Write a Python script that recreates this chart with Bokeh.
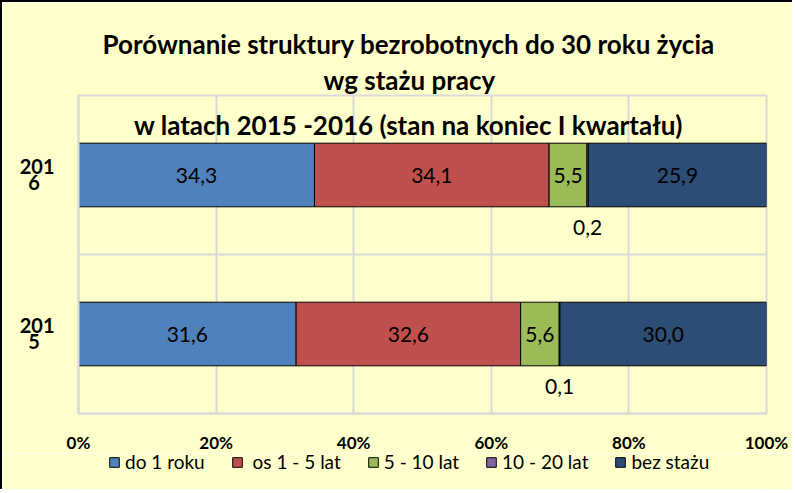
from bokeh.plotting import figure
from bokeh.layouts import column
from bokeh.models import (Range1d, Label, Legend, LegendItem, ColumnDataSource,
                          FixedTicker, Span, Title)
from bokeh.core.properties import value
from bokeh.embed import file_html
from bokeh.resources import INLINE

# ---- data ----
years = ["2015", "2016"]
year_label_top = ["201", "201"]
year_label_bottom = ["5", "6"]
series_names = ["do 1 roku", " os 1 - 5 lat", "5 - 10 lat", "10 - 20 lat", "bez stażu"]
do_1_roku = [31.6, 34.3]
os_1_5_lat = [32.6, 34.1]
lat_5_10 = [5.6, 5.5]
lat_10_20 = [0.1, 0.2]
bez_stazu = [30.0, 25.9]
x_ticks = [0, 20, 40, 60, 80, 100]
x_tick_labels = ["0%", "20%", "40%", "60%", "80%", "100%"]
title_lines = [
    "Porównanie struktury bezrobotnych do 30 roku życia",
    "wg stażu pracy",
    "w latach 2015 -2016 (stan na koniec I kwartału)",
]

# ---- style ----
colors = ["#4F81BD", "#C0504D", "#9BBB59", "#8064A2", "#2C4D75"]
bg = "#FFFFCC"
grid = "#D9D9D9"
FONT = "Lato"
NB = "\u00a0"

series_vals = [do_1_roku, os_1_5_lat, lat_5_10, lat_10_20, bez_stazu]
keys = ["s0", "s1", "s2", "s3", "s4"]
n = len(years)
totals = [sum(v[i] for v in series_vals) for i in range(n)]
ypos = [i + 0.5 for i in range(n)]   # category slots

data = {"y": ypos}
for k, vals in zip(keys, series_vals):
    data[k] = [v / t * 100 for v, t in zip(vals, totals)]
source = ColumnDataSource(data)

W = 792
BL, BR = 76, 28
p = figure(
    width=W, height=453,
    y_range=Range1d(0, n), x_range=Range1d(0, 100),
    output_backend="svg", toolbar_location=None,
    min_border_left=BL, min_border_right=BR, min_border_top=93, min_border_bottom=40,
    background_fill_color=bg, border_fill_color=bg,
)
p.styles = {"border-left": "2px solid black", "border-top": "2px solid black"}
p.outline_line_color = grid
p.outline_line_width = 2

renderers = p.hbar_stack(keys, y="y", height=0.4, color=colors, source=source,
                         line_color="black", line_width=1)

# category separator lines
for b in range(1, n):
    p.add_layout(Span(location=b, dimension="width", line_color=grid, line_width=2))

# grids / axes
p.ygrid.grid_line_color = None
p.xgrid.grid_line_color = grid
p.xgrid.grid_line_width = 2
p.xaxis.ticker = FixedTicker(ticks=x_ticks)
p.xaxis.major_label_overrides = {t: l for t, l in zip(x_ticks, x_tick_labels)}

# two-line year labels: two ticks per category
ticks, overrides = [], {}
for i in range(n):
    t_top = round(ypos[i] + 0.055, 4)
    t_bot = round(ypos[i] - 0.045, 4)
    ticks += [t_bot, t_top]
    overrides[t_top] = year_label_top[i]
    overrides[t_bot] = year_label_bottom[i] + NB * 3
p.yaxis.ticker = FixedTicker(ticks=ticks)
p.yaxis.major_label_overrides = overrides

for ax in (p.xaxis[0], p.yaxis[0]):
    ax.axis_line_color = grid
    ax.axis_line_width = 2
    ax.major_tick_line_color = None
    ax.minor_tick_line_color = None
    ax.major_label_text_font = FONT
    ax.major_label_text_font_style = "bold"
    ax.major_label_text_color = "black"
p.xaxis.major_label_text_font_size = "17px"
p.xaxis.major_label_standoff = 12
p.yaxis.major_label_text_font_size = "20px"
p.yaxis.major_label_standoff = 18

# data labels
lx, ly, lt, loff = [], [], [], []
for i in range(n):
    cum = 0
    for s, k in enumerate(keys):
        v = data[k][i]
        lx.append(cum + v / 2)
        ly.append(ypos[i])
        lt.append(f"{series_vals[s][i]:.1f}".replace(".", ","))
        loff.append(52 if s == 3 else 0)
        cum += v
lab_src = ColumnDataSource(dict(x=lx, y=ly, t=lt, off=loff))
p.text(x="x", y="y", text="t", y_offset="off", source=lab_src,
       text_font=value(FONT), text_font_size="21px", text_color="black",
       text_align="center", text_baseline="middle")

# title: lines 1-2 above the plot area, line 3 inside it
p.title.text = title_lines[0]
p.title.text_font = FONT
p.title.text_font_size = "26px"
p.title.text_font_style = "bold"
p.title.text_color = "black"
p.title.align = "left"
p.title.offset = 24
p.title.standoff = 4
t2 = Title(text=title_lines[1], text_font=FONT, text_font_size="26px", text_color="black",
           text_font_style="bold", align="left", offset=245, standoff=0)
p.add_layout(t2, "above")
p.add_layout(Label(x=330, y=289, x_units="screen", y_units="screen", text=title_lines[2],
                   text_font=FONT, text_font_size="26px", text_font_style="bold",
                   text_align="center", text_baseline="alphabetic", text_color="black"))

# legend strip below the chart (its bars lie outside its visible range)
lp = figure(width=W, height=36, output_backend="svg", toolbar_location=None,
            x_range=Range1d(0, 100), y_range=Range1d(n + 10, n + 11),
            x_axis_location=None, y_axis_location=None,
            min_border_left=BL, min_border_right=BR, min_border_top=0, min_border_bottom=0,
            background_fill_color=bg, border_fill_color=bg)
lp.styles = {"border-left": "2px solid black"}
lp.outline_line_color = None
lp.xgrid.visible = False
lp.ygrid.visible = False
leg_rs = lp.hbar_stack(keys, y="y", height=0.4, color=colors, source=source,
                       line_color="black", line_width=1)
legend = Legend(
    items=[LegendItem(label=nm, renderers=[r]) for nm, r in zip(series_names, leg_rs)],
    orientation="horizontal", location=(30, 16),
    background_fill_alpha=0, border_line_color=None,
    label_text_font=FONT, label_text_font_size="19px", label_text_color="black",
    glyph_width=12, glyph_height=12, label_standoff=5, spacing=26, padding=0, margin=0,
    label_height=20,
)
lp.add_layout(legend)

layout = column(p, lp, spacing=0)
open("out.html", "w").write(file_html(layout, INLINE))
